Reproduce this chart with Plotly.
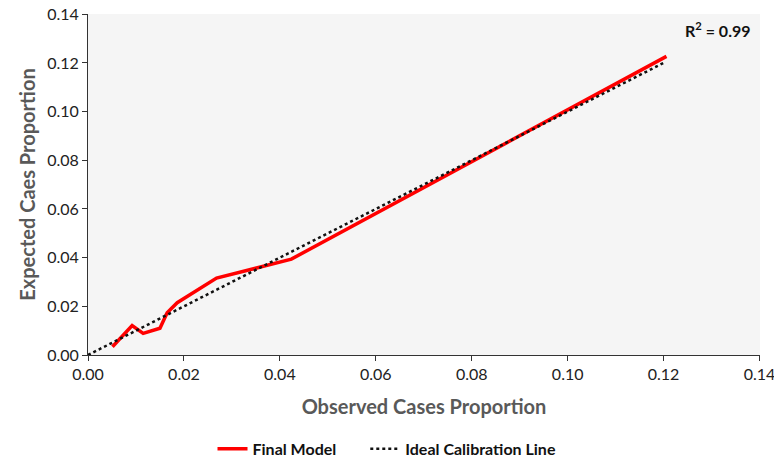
import plotly.graph_objects as go

observed = [0.0051, 0.0092, 0.0115, 0.0150, 0.0165, 0.0186, 0.0268, 0.0424, 0.1206]
expected = [0.0034, 0.0121, 0.0089, 0.0110, 0.0174, 0.0215, 0.0316, 0.0394, 0.1227]
ideal_x = [0.0, 0.12]
ideal_y = [0.0, 0.12]
tick_vals = [0.00, 0.02, 0.04, 0.06, 0.08, 0.10, 0.12, 0.14]
tick_text = ["0.00", "0.02", "0.04", "0.06", "0.08", "0.10", "0.12", "0.14"]

FONT = "Lato, Open Sans, sans-serif"

fig = go.Figure()
fig.add_trace(go.Scatter(x=observed, y=expected, mode="lines",
                         name="<b>Final Model</b>\u2003\u2003",
                         line=dict(color="#ff0000", width=3.5)))
fig.add_trace(go.Scatter(x=ideal_x, y=ideal_y, mode="lines",
                         name="<b>Ideal Calibration Line</b>",
                         line=dict(color="#111111", width=2.5, dash="dot")))

axis_common = dict(range=[0, 0.1401], tickvals=tick_vals, ticktext=tick_text,
                   showgrid=False, zeroline=False, showline=True, linecolor="#333333",
                   linewidth=1, ticks="outside", ticklen=5, tickcolor="#333333",
                   automargin=False, ticklabeloverflow="allow",
                   tickfont=dict(family=FONT, size=16, color="#222222"))

fig.update_xaxes(**axis_common,
                 title=dict(text="<b>Observed Cases Proportion</b>",
                            font=dict(family=FONT, size=20, color="#595959"), standoff=17))
fig.update_yaxes(**axis_common,
                 title=dict(text="<b>Expected Caes Proportion</b>",
                            font=dict(family=FONT, size=20, color="#595959"), standoff=6))

fig.add_annotation(x=0.99, y=0.955, xref="paper", yref="paper", xanchor="right", yanchor="middle",
                   text="<b>R<sup>2</sup> = 0.99</b>", showarrow=False,
                   font=dict(family=FONT, size=16, color="#111111"))

fig.update_layout(width=774, height=460,
                  margin=dict(l=88, r=14, t=14, b=105),
                  plot_bgcolor="#f5f5f5", paper_bgcolor="white",
                  showlegend=True,
                  legend=dict(orientation="h", xref="container", yref="container",
                              x=0.5, xanchor="center", y=0.024, yanchor="middle",
                              font=dict(family=FONT, size=16, color="#111111"),
                              traceorder="normal"))

fig.write_html("out.html", post_script="document.body.style.margin='0';",
               config={"displayModeBar": False})
